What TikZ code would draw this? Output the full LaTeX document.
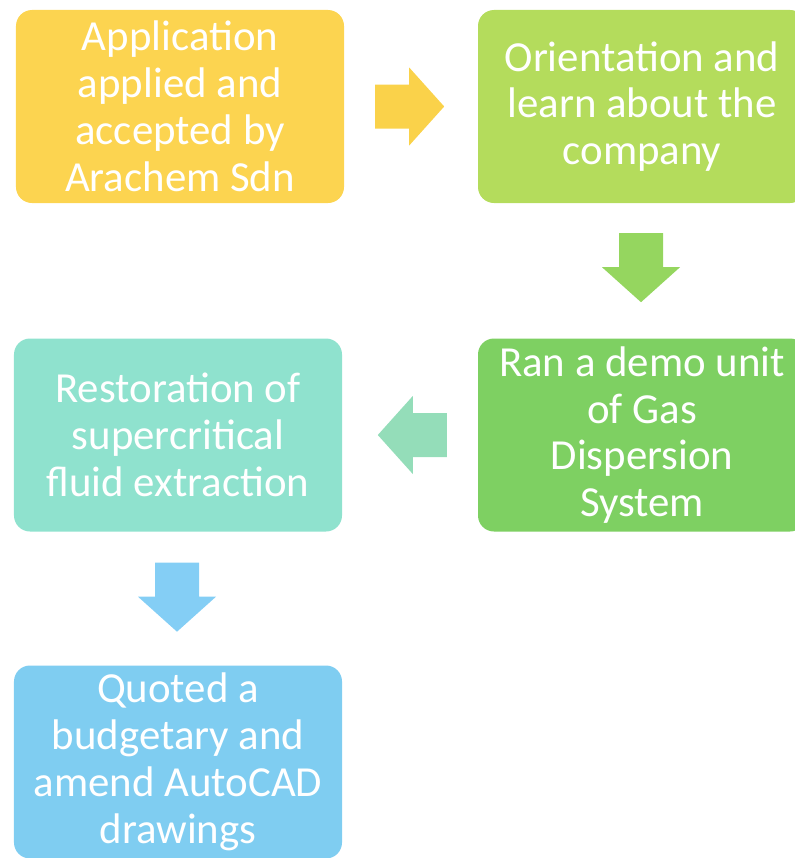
\documentclass[tikz,border=0pt]{standalone}
\usepackage{fontspec}
\setmainfont{Carlito}
\usetikzlibrary{calc}

\definecolor{stageyellow}{HTML}{FCD450}
\definecolor{stagelime}{HTML}{B4DC5C}
\definecolor{stagegreen}{HTML}{7ED062}
\definecolor{stageteal}{HTML}{8FE2CE}
\definecolor{stageblue}{HTML}{7FCDF1}
\definecolor{arrowyellow}{HTML}{FAD24A}
\definecolor{arrowgreen}{HTML}{95D65F}
\definecolor{arrowmint}{HTML}{94DDB9}
\definecolor{arrowblue}{HTML}{84CEF5}

\tikzset{
  stagebox/.style={rounded corners=16bp, minimum width=328bp, minimum height=193bp,
    inner sep=0pt, align=center, text=white, font=\fontsize{43}{47}\selectfont},
  % fat block arrow, pointing along the local x axis from its start point
  blockarrow/.pic={
    \fill[pic actions] (0,-22) -- (34,-22) -- (34,-39) -- (69,0) -- (34,39) -- (34,22) -- (0,22) -- cycle;
  }
}

\begin{document}
\begin{tikzpicture}[x=1bp,y=-1bp]
  \useasboundingbox (0,0) rectangle (795,858);
  \clip (0,0) rectangle (795,858);

  % process stages
  \node[stagebox, fill=stageyellow] (b1) at (180,106.5)
    {Application\\applied and\\accepted by\\Arachem Sdn};
  \node[stagebox, fill=stagelime] (b2) at (642,106.5)
    {Orientation and\\learn about the\\company};
  \node[stagebox, fill=stagegreen] (b4) at (642,435)
    {Ran a demo unit\\of Gas\\Dispersion\\System};
  \node[stagebox, fill=stageteal] (b3) at (178,435)
    {Restoration of\\supercritical\\fluid extraction};
  \node[stagebox, fill=stageblue] (b5) at (178,762)
    {Quoted a\\budgetary and\\amend AutoCAD\\drawings};

  % arrows between the stages
  \pic[fill=arrowyellow] at ($(b1.east)+(31,0)$) {blockarrow};
  \pic[fill=arrowgreen, rotate=-90] at ($(b2.south)+(-1,30)$) {blockarrow};
  \pic[fill=arrowmint, rotate=180] at ($(b4.west)+(-31,0)$) {blockarrow};
  \pic[fill=arrowblue, rotate=-90] at ($(b3.south)+(-1,31)$) {blockarrow};
\end{tikzpicture}
\end{document}
